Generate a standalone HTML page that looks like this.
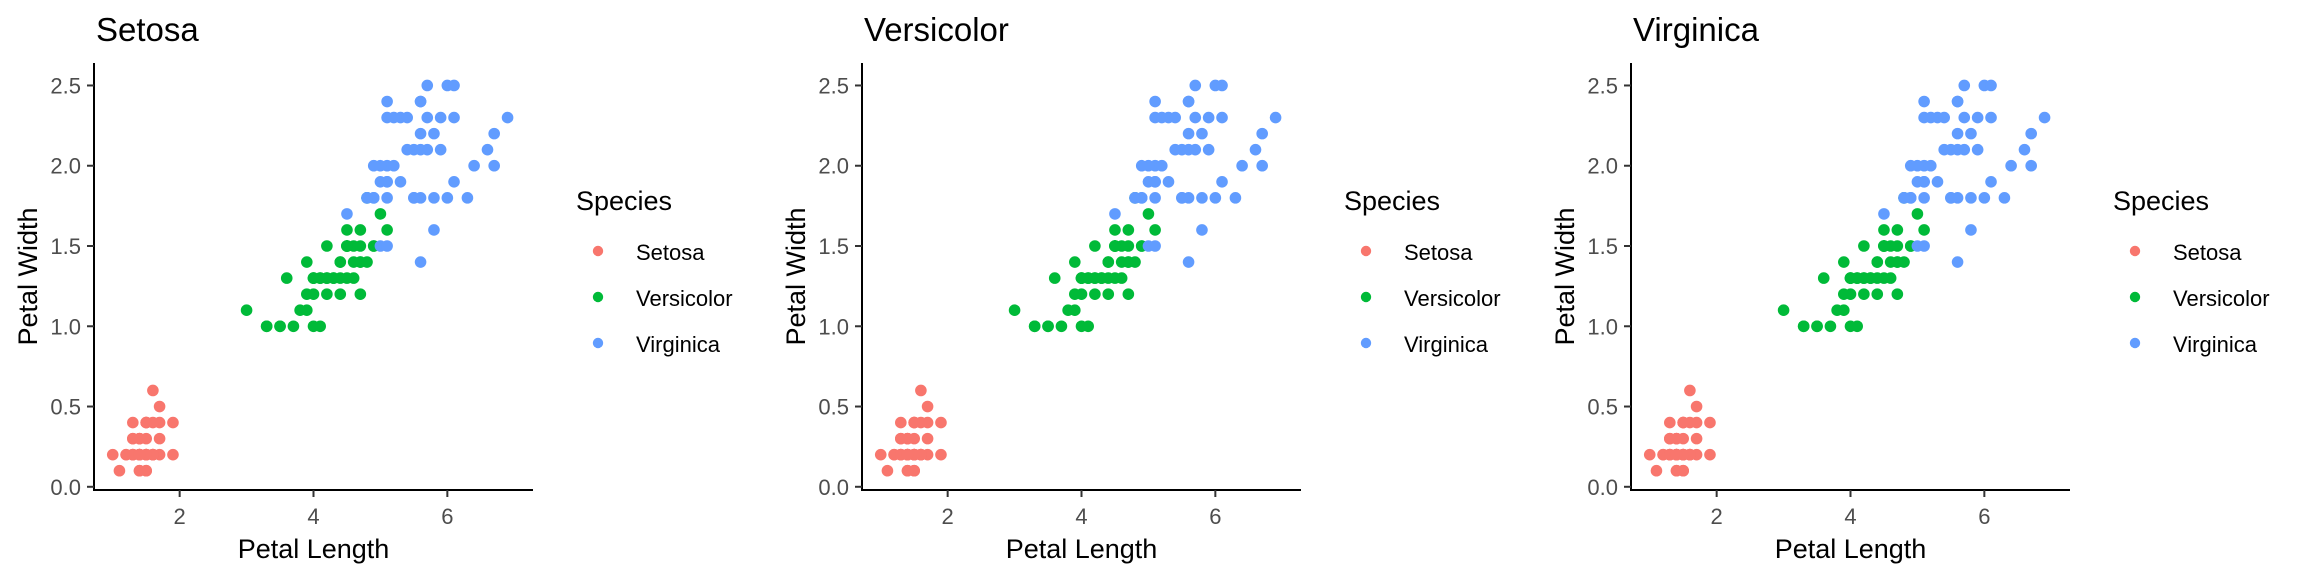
<!DOCTYPE html>
<html><head><meta charset="utf-8">
<style>
html,body{margin:0;padding:0;background:#fff;}
svg{display:block;font-family:"Liberation Sans",Arial,sans-serif;}
</style></head>
<body>
<svg id="chart" width="2304" height="576" viewBox="0 0 2304 576"></svg>
<script>
const panelTitles = ["Setosa","Versicolor","Virginica"];
const speciesNames = ["Setosa","Versicolor","Virginica"];
const speciesColors = ["#F8766D","#00BA38","#619CFF"];
const xTicks = [2,4,6];
const xTickLabels = ["2","4","6"];
const yTicks = [0,0.5,1,1.5,2,2.5];
const yTickLabels = ["0.0","0.5","1.0","1.5","2.0","2.5"];
const setosaLength = [1.4,1.4,1.3,1.5,1.4,1.7,1.4,1.5,1.4,1.5,1.5,1.6,1.4,1.1,1.2,1.5,1.3,1.4,1.7,1.5,1.7,1.5,1.0,1.7,1.9,1.6,1.6,1.5,1.4,1.6,1.6,1.5,1.5,1.4,1.5,1.2,1.3,1.4,1.3,1.5,1.3,1.3,1.3,1.6,1.9,1.4,1.6,1.4,1.5,1.4];
const setosaWidth = [0.2,0.2,0.2,0.2,0.2,0.4,0.3,0.2,0.2,0.1,0.2,0.2,0.1,0.1,0.2,0.4,0.4,0.3,0.3,0.3,0.2,0.4,0.2,0.5,0.2,0.2,0.4,0.2,0.2,0.2,0.2,0.4,0.1,0.2,0.2,0.2,0.2,0.1,0.2,0.2,0.3,0.3,0.2,0.6,0.4,0.3,0.2,0.2,0.2,0.2];
const versicolorLength = [4.7,4.5,4.9,4.0,4.6,4.5,4.7,3.3,4.6,3.9,3.5,4.2,4.0,4.7,3.6,4.4,4.5,4.1,4.5,3.9,4.8,4.0,4.9,4.7,4.3,4.4,4.8,5.0,4.5,3.5,3.8,3.7,3.9,5.1,4.5,4.5,4.7,4.4,4.1,4.0,4.4,4.6,4.0,3.3,4.2,4.2,4.2,4.3,3.0,4.1];
const versicolorWidth = [1.4,1.5,1.5,1.3,1.5,1.3,1.6,1.0,1.3,1.4,1.0,1.5,1.0,1.4,1.3,1.4,1.5,1.0,1.5,1.1,1.8,1.3,1.5,1.2,1.3,1.4,1.4,1.7,1.5,1.0,1.1,1.0,1.2,1.6,1.5,1.6,1.5,1.3,1.3,1.3,1.2,1.4,1.2,1.0,1.3,1.2,1.3,1.3,1.1,1.3];
const virginicaLength = [6.0,5.1,5.9,5.6,5.8,6.6,4.5,6.3,5.8,6.1,5.1,5.3,5.5,5.0,5.1,5.3,5.5,6.7,6.9,5.0,5.7,4.9,6.7,4.9,5.7,6.0,4.8,4.9,5.6,5.8,6.1,6.4,5.6,5.1,5.6,6.1,5.6,5.5,4.8,5.4,5.6,5.1,5.1,5.9,5.7,5.2,5.0,5.2,5.4,5.1];
const virginicaWidth = [2.5,1.9,2.1,1.8,2.2,2.1,1.7,1.8,1.8,2.5,2.0,1.9,2.1,2.0,2.4,2.3,1.8,2.2,2.3,1.5,2.3,2.0,2.0,1.8,2.1,1.8,1.8,1.8,2.1,1.6,1.9,2.0,2.2,1.5,1.4,2.3,2.4,1.8,1.8,2.1,2.4,2.3,1.9,2.3,2.5,2.3,1.9,2.0,2.3,1.8];

const seriesX = [setosaLength, versicolorLength, virginicaLength];
const seriesY = [setosaWidth, versicolorWidth, virginicaWidth];
const NS = "http://www.w3.org/2000/svg";
const svg = document.getElementById("chart");
function mk(tag, attrs, parent){const e=document.createElementNS(NS,tag);for(const k in attrs)e.setAttribute(k,attrs[k]);(parent||svg).appendChild(e);return e;}

const offsets = [0,768,1537];
const xDomain=[0.72,7.28], yDomain=[-0.02,2.64];
panelTitles.forEach((title,p)=>{
  const g = mk("g",{});
  
  
  const L = 94+offsets[p], R = L+439, T = 63, B = 490;
  const xs = v => L + (v - xDomain[0])/(xDomain[1]-xDomain[0])*(R-L);
  const ys = v => B - (v - yDomain[0])/(yDomain[1]-yDomain[0])*(B-T);
  const t = mk("text",{x:L+2,y:41,"font-size":33,fill:"#000"},g); t.textContent=title;
  
  
  seriesX.forEach((xsArr,s)=>{
    xsArr.forEach((v,i)=>{
      const c = mk("circle",{cx:xs(v),cy:ys(seriesY[s][i]),r:5.8,fill:speciesColors[s]},g);
      
      
    });
  });
  const ya = mk("line",{x1:L,y1:T,x2:L,y2:B,stroke:"#000","stroke-width":2},g);
  
  
  const xa = mk("line",{x1:L-1,y1:B,x2:R,y2:B,stroke:"#000","stroke-width":2},g);
  
  
  yTicks.forEach((v,i)=>{
    const y=ys(v);
    mk("line",{x1:L-7,y1:y,x2:L,y2:y,stroke:"#333","stroke-width":2},g);
    const tl=mk("text",{x:L-13,y:y+8,"font-size":22,fill:"#4d4d4d","text-anchor":"end"},g);
    tl.textContent=yTickLabels[i];
    
    
  });
  xTicks.forEach((v,i)=>{
    const x=xs(v);
    mk("line",{x1:x,y1:B,x2:x,y2:B+7,stroke:"#333","stroke-width":2},g);
    const tl=mk("text",{x:x,y:524,"font-size":22,fill:"#4d4d4d","text-anchor":"middle"},g);
    tl.textContent=xTickLabels[i];
    
    
  });
  const xt=mk("text",{x:(L+R)/2,y:558,"font-size":27,fill:"#000","text-anchor":"middle"},g);
  xt.textContent="Petal Length";
  
  
  const yt=mk("text",{x:0,y:0,"font-size":27,fill:"#000","text-anchor":"middle",transform:`translate(${37+offsets[p]},${(T+B)/2}) rotate(-90)`},g);
  yt.textContent="Petal Width";
  
  
  const lg = mk("g",{},g);
  
  
  const lt=mk("text",{x:576+offsets[p],y:210,"font-size":27,fill:"#000"},lg);
  lt.textContent="Species";
  
  
  speciesNames.forEach((n,s)=>{
    const cy=251+s*46;
    const d=mk("circle",{cx:598+offsets[p],cy:cy,r:5.2,fill:speciesColors[s]},lg);
    
    
    const tx=mk("text",{x:636+offsets[p],y:cy+9,"font-size":22,fill:"#000"},lg);
    tx.textContent=n;
    
    
  });
});
</script>
</body></html>
